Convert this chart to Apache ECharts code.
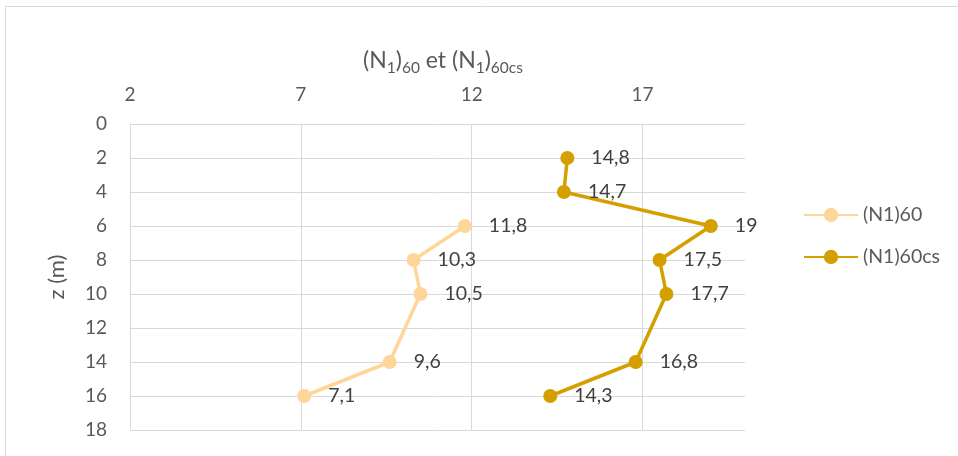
<!DOCTYPE html>
<html>
<head>
<meta charset="utf-8">
<script src="https://cdn.jsdelivr.net/npm/echarts@6/dist/echarts.min.js"></script>
<style>
  html, body { margin: 0; padding: 0; background: #fff; }
  #chart { width: 958px; height: 456px; }
</style>
</head>
<body>
<div id="chart"></div>
<script>
// Depths (m) and blow counts for each profile
const depthN60 = [6, 8, 10, 14, 16];
const valuesN60 = [11.8, 10.3, 10.5, 9.6, 7.1];
const depthN60cs = [2, 4, 6, 8, 10, 14, 16];
const valuesN60cs = [14.8, 14.7, 19, 17.5, 17.7, 16.8, 14.3];
const seriesNames = ['(N1)60', '(N1)60cs'];

const FONT = 'Lato, "Noto Sans", sans-serif';
const GRID = '#D9D9D9';
const TXT = '#595959';

function pairs(xs, ys) {
  return xs.map((x, i) => [x, ys[i]]);
}

const labelCfg = {
  show: true,
  position: 'right',
  distance: 17,
  color: '#404040',
  fontSize: 19.5,
  fontFamily: FONT,
  formatter: p => String(p.value[0]).replace('.', ',')
};

const chart = echarts.init(document.getElementById('chart'), null, { renderer: 'canvas' });
chart.setOption({
  animation: false,
  backgroundColor: '#fff',
  textStyle: { fontFamily: FONT },
  graphic: [{
    type: 'rect',
    shape: { x: 5.5, y: 6.5, width: 980, height: 480 },
    style: { fill: 'none', stroke: GRID, lineWidth: 1 },
    silent: true, z: -10
  }],
  title: {
    text: '(N{s|1}){s|60} et (N{s|1}){s|60cs}',
    left: 438,
    textAlign: 'center',
    top: 41,
    textStyle: {
      fontFamily: FONT,
      fontSize: 23,
      fontWeight: 'normal',
      color: TXT,
      lineHeight: 30,
      rich: {
        s: { fontSize: 15.5, color: TXT, fontFamily: FONT, verticalAlign: 'bottom', lineHeight: 16, padding: [13, 0, 0, 0] }
      }
    }
  },
  grid: { left: 130, top: 124, width: 615, height: 306, containLabel: false },
  legend: {
    orient: 'vertical',
    left: 798,
    top: 200,
    itemWidth: 54,
    itemHeight: 18,
    itemGap: 22,
    textStyle: { fontSize: 19.5, color: TXT, fontFamily: FONT },
    data: seriesNames
  },
  xAxis: {
    type: 'value',
    position: 'top',
    min: 2,
    max: 20,
    interval: 5,
    axisLine: { show: true, lineStyle: { color: GRID } },
    axisTick: { show: false },
    axisLabel: { color: TXT, fontSize: 19, fontFamily: FONT, margin: 20, showMaxLabel: false },
    splitLine: { show: true, showMaxLine: false, lineStyle: { color: GRID, width: 1 } }
  },
  yAxis: {
    type: 'value',
    inverse: true,
    min: 0,
    max: 18,
    interval: 2,
    name: 'z (m)',
    nameLocation: 'middle',
    nameRotate: 90,
    nameGap: 62,
    nameTextStyle: { fontSize: 22, color: TXT, fontFamily: FONT },
    axisLine: { show: true, lineStyle: { color: GRID } },
    axisTick: { show: false },
    axisLabel: { color: TXT, fontSize: 19, fontFamily: FONT, margin: 23 },
    splitLine: { show: true, lineStyle: { color: GRID, width: 1 } }
  },
  series: [
    {
      name: seriesNames[0],
      type: 'line',
      data: pairs(valuesN60, depthN60),
      symbol: 'circle',
      symbolSize: 14,
      color: '#FFD699',
      lineStyle: { width: 3.5, color: '#FFD699' },
      itemStyle: { color: '#FFD699' },
      label: labelCfg
    },
    {
      name: seriesNames[1],
      type: 'line',
      data: pairs(valuesN60cs, depthN60cs),
      symbol: 'circle',
      symbolSize: 14,
      color: '#D4A000',
      lineStyle: { width: 3.5, color: '#D4A000' },
      itemStyle: { color: '#D4A000' },
      label: labelCfg
    }
  ]
});
</script>
</body>
</html>
